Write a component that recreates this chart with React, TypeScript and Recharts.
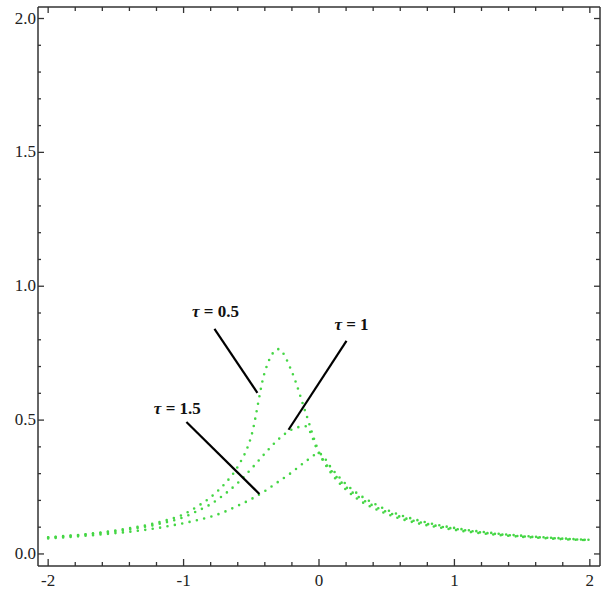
import { LineChart, Line, XAxis, YAxis, ReferenceLine, ReferenceDot } from 'recharts'

// x grid of the three curves
const xs = [
  -2, -1.9, -1.8, -1.7, -1.6, -1.5, -1.4, -1.3, -1.2, -1.1, -1, -0.9, -0.8, -0.7, -0.6, -0.5, -0.4, -0.3, -0.2, -0.1,
  0, 0.1, 0.2, 0.3, 0.4, 0.5, 0.6, 0.7, 0.8, 0.9, 1, 1.1, 1.2, 1.3, 1.4, 1.5, 1.6, 1.7, 1.8, 1.9, 2,
]

// tau = 0.5
const tau05 = [
  0.062, 0.066, 0.07, 0.075, 0.081, 0.088, 0.096, 0.105, 0.116, 0.13, 0.148, 0.177, 0.212, 0.26, 0.326, 0.44, 0.68,
  0.765, 0.68, 0.53, 0.38, 0.295, 0.24, 0.2, 0.172, 0.15, 0.132, 0.118, 0.107, 0.098, 0.09, 0.083, 0.077, 0.072,
  0.068, 0.064, 0.061, 0.058, 0.055, 0.053, 0.051,
]

// tau = 1
const tau1 = [
  0.061, 0.065, 0.069, 0.074, 0.079, 0.085, 0.092, 0.1, 0.11, 0.122, 0.137, 0.16, 0.186, 0.222, 0.265, 0.318, 0.375,
  0.428, 0.465, 0.477, 0.375, 0.305, 0.25, 0.21, 0.18, 0.157, 0.139, 0.124, 0.112, 0.102, 0.094, 0.087, 0.08, 0.075,
  0.07, 0.066, 0.063, 0.06, 0.057, 0.054, 0.052,
]

// tau = 1.5
const tau15 = [
  0.058, 0.061, 0.065, 0.069, 0.073, 0.078, 0.083, 0.089, 0.096, 0.105, 0.115, 0.126, 0.139, 0.157, 0.18, 0.205,
  0.235, 0.27, 0.305, 0.345, 0.375, 0.315, 0.26, 0.22, 0.19, 0.165, 0.145, 0.13, 0.117, 0.106, 0.097, 0.089, 0.083,
  0.077, 0.072, 0.068, 0.064, 0.061, 0.058, 0.055, 0.053,
]

const xTicks = [-2, -1.8, -1.6, -1.4, -1.2, -1, -0.8, -0.6, -0.4, -0.2, 0, 0.2, 0.4, 0.6, 0.8, 1, 1.2, 1.4, 1.6, 1.8, 2]
const xMajor = [-2, -1, 0, 1, 2]
const yTicks = [0, 0.1, 0.2, 0.3, 0.4, 0.5, 0.6, 0.7, 0.8, 0.9, 1, 1.1, 1.2, 1.3, 1.4, 1.5, 1.6, 1.7, 1.8, 1.9, 2]
const yMajor = [0, 0.5, 1, 1.5, 2]

// annotations: label text, label anchor, leader line start / end (data units)
const labels = ['0.5', '1', '1.5']
const labelAt = [
  [-0.765, 0.885],
  [0.24, 0.838],
  [-1.046, 0.524],
]
const leaderFrom = [
  [-0.772, 0.841],
  [0.203, 0.796],
  [-0.979, 0.493],
]
const leaderTo = [
  [-0.455, 0.602],
  [-0.225, 0.464],
  [-0.44, 0.224],
]

const data = xs.map((x, i) => ({ x, a: tau05[i], b: tau1[i], c: tau15[i] }))

const FONT = '"Liberation Serif", "Times New Roman", serif'
const AXIS = '#333'
const DOTS = '#45d645'

const isMajor = (list: number[], v: number) => list.some((m) => Math.abs(m - v) < 1e-6)

function BottomTick({ x, y, payload }: any) {
  const major = isMajor(xMajor, payload.value)
  return (
    <g>
      <line x1={x} y1={y} x2={x} y2={y - (major ? 7 : 4)} stroke={AXIS} strokeWidth={1.3} />
      {major && (
        <text x={x} y={y + 20} textAnchor="middle" fontFamily={FONT} fontSize={17} fill="#222">
          {String(payload.value)}
        </text>
      )}
    </g>
  )
}

function TopTick({ x, y, payload }: any) {
  const major = isMajor(xMajor, payload.value)
  return <line x1={x} y1={y} x2={x} y2={y + (major ? 6 : 4)} stroke={AXIS} strokeWidth={1.3} />
}

function LeftTick({ x, y, payload }: any) {
  const major = isMajor(yMajor, payload.value)
  return (
    <g>
      <line x1={x} y1={y} x2={x + (major ? 6 : 3)} y2={y} stroke={AXIS} strokeWidth={1.3} />
      {major && (
        <text x={x - 2} y={y + 5} textAnchor="end" fontFamily={FONT} fontSize={17} fill="#222">
          {payload.value.toFixed(1)}
        </text>
      )}
    </g>
  )
}

function RightTick({ x, y, payload }: any) {
  const major = isMajor(yMajor, payload.value)
  return <line x1={x} y1={y} x2={x - (major ? 6 : 4)} y2={y} stroke={AXIS} strokeWidth={1.3} />
}

const axisLine = { stroke: AXIS, strokeWidth: 1.5 }

export default function App() {
  return (
    <div style={{ position: 'absolute', left: 0, top: 0, width: 607, height: 596, background: '#fff' }}>
      <LineChart width={607} height={596} data={data} margin={{ top: 6, right: 6, bottom: 0, left: 0 }}>
        <XAxis
          xAxisId="b"
          dataKey="x"
          type="number"
          domain={[-2.075, 2.075]}
          ticks={xTicks}
          interval={0}
          height={30}
          tickSize={0}
          tickMargin={0}
          tickLine={false}
          axisLine={axisLine}
          tick={<BottomTick />}
          allowDataOverflow
        />
        <XAxis
          xAxisId="t"
          orientation="top"
          dataKey="x"
          type="number"
          domain={[-2.075, 2.075]}
          ticks={xTicks}
          interval={0}
          height={1}
          tickSize={0}
          tickMargin={0}
          tickLine={false}
          axisLine={axisLine}
          tick={<TopTick />}
          allowDataOverflow
        />
        <YAxis
          yAxisId="l"
          type="number"
          domain={[-0.045, 2.043]}
          ticks={yTicks}
          interval={0}
          width={38}
          tickSize={0}
          tickMargin={0}
          tickLine={false}
          axisLine={axisLine}
          tick={<LeftTick />}
          allowDataOverflow
        />
        <YAxis
          yAxisId="r"
          orientation="right"
          type="number"
          domain={[-0.045, 2.043]}
          ticks={yTicks}
          interval={0}
          width={1}
          tickSize={0}
          tickMargin={0}
          tickLine={false}
          axisLine={axisLine}
          tick={<RightTick />}
          allowDataOverflow
        />
        {['a', 'b', 'c'].map((k) => (
          <Line
            key={k}
            xAxisId="b"
            yAxisId="l"
            type="monotone"
            dataKey={k}
            stroke={DOTS}
            strokeWidth={2.6}
            strokeDasharray="0 7.5"
            strokeLinecap="round"
            dot={false}
            activeDot={false}
            isAnimationActive={false}
          />
        ))}
        {labels.map((t, i) => (
          <ReferenceLine
            key={'l' + t}
            xAxisId="b"
            yAxisId="l"
            segment={[
              { x: leaderFrom[i][0], y: leaderFrom[i][1] },
              { x: leaderTo[i][0], y: leaderTo[i][1] },
            ]}
            stroke="#000"
            strokeWidth={2.2}
            ifOverflow="visible"
          />
        ))}
        {labels.map((t, i) => (
          <ReferenceDot
            key={'t' + t}
            xAxisId="b"
            yAxisId="l"
            x={labelAt[i][0]}
            y={labelAt[i][1]}
            r={0}
            ifOverflow="visible"
            shape={(p: any) => (
              <text
                x={p.cx}
                y={p.cy}
                textAnchor="middle"
                fontFamily={FONT}
                fontSize={17}
                fontWeight="bold"
                fill="#111"
              >
                <tspan fontStyle="italic">τ</tspan>
                {' = ' + t}
              </text>
            )}
          />
        ))}
      </LineChart>
    </div>
  )
}
